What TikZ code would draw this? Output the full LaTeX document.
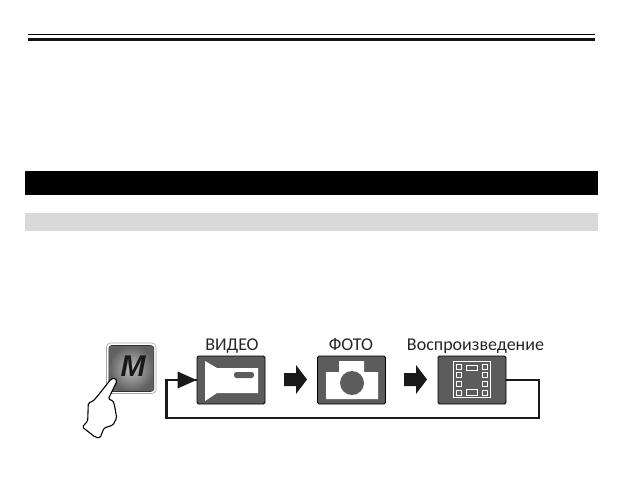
\documentclass[tikz,border=0pt]{standalone}
\usepackage{fontspec}
\setmainfont{Carlito}
\newfontfamily\buttonfont{Liberation Sans}
\usepackage{xcolor}

\definecolor{boxgray}{gray}{0.36}
\definecolor{bargray}{gray}{0.85}

\tikzset{
  modebox/.style={draw=black, line width=0.8pt, fill=boxgray, rounded corners=1.5pt, minimum width=68pt, minimum height=48pt, inner sep=0pt},
  modelabel/.style={font=\fontsize{18}{18}\selectfont, inner sep=0pt, text=black!85, anchor=base},
  whitepart/.style={fill=white, draw=none},
  filmpart/.style={draw=white, line width=1pt, fill=boxgray},
  loopline/.style={draw=black!90, line width=2.8pt},
}

\begin{document}
\begin{tikzpicture}[x=1pt, y=-1pt, line join=miter]
    \useasboundingbox[fill=white] (0, 0) rectangle (624, 482);

    % draw header rules
    \draw[line width=1.1pt] (28, 34.5) -- (595, 34.5);
    \draw[line width=2.6pt, color=black!92] (28, 39.7) -- (595, 39.7);

    % draw section bars
    \fill[black] (25, 171) rectangle (598, 195);
    \fill[bargray] (25, 213) rectangle (598, 231);

    % draw button
    \draw[draw=black!35, line width=0.6pt, fill=white, rounded corners=4pt] (106.5, 343) rectangle (156, 393.5);
    \node[draw=black!80, line width=0.6pt, rounded corners=3pt, minimum width=45pt, minimum height=46pt, inner color=black!25, outer color=black!62, inner sep=0pt] (mbutton) at (131.3, 368.5) {};
    \node[font=\buttonfont\bfseries\itshape\fontsize{30}{30}\selectfont, text=black!90, inner sep=0pt] (mletter) at (133, 366) {M};

    % draw hand
    \draw[draw=black, fill=white, line width=1.1pt, rounded corners=1.5pt]
      (115, 378) -- (117, 381) -- (108.3, 399) -- (113.3, 401) -- (115, 408) -- (116.7, 418) -- (113, 425)
      -- (104, 428) -- (100, 438) -- (95, 437) -- (82.3, 427) -- (87.7, 421) -- (88.3, 403) -- (93.3, 401)
      -- (100, 393) -- (111, 379) -- cycle;

    % draw mode boxes
    \node[modebox] (videobox) at (231, 380) {};
    \node[modebox] (photobox) at (351.5, 380) {};
    \node[modebox] (playbox) at (472, 380) {};

    % draw labels
    \node[modelabel] (videolabel) at (232, 350.5) {ВИДЕО};
    \node[modelabel] (photolabel) at (351, 350.5) {ФОТО};
    \node[modelabel] (playlabel) at (475.5, 350.5) {Воспроизведение};

    % draw video camera
    \fill[whitepart] (205, 361) -- (217, 368) -- (258, 368) -- (258, 393) -- (217, 393) -- (205, 401) -- cycle;
    \fill[boxgray, rounded corners=2.5pt] (234, 372) rectangle (254, 378);

    % draw photo camera
    \fill[whitepart] (326, 372) -- (339, 372) -- (339, 361) -- (364, 361) -- (364, 372) -- (378, 372) -- (378, 399) -- (326, 399) -- cycle;
    \fill[boxgray] (352, 383) circle (12);

    % draw film strip
    \draw[white, line width=1pt] (453, 361) rectangle (490, 397.5);
    \foreach \y in {364, 372.7, 381.5, 390} {
      \draw[filmpart] (456.5, \y) rectangle +(5, 5);
      \draw[filmpart] (482, \y) rectangle +(5, 5);
    }
    \draw[filmpart] (466, 365) rectangle (477.5, 370.5);
    \draw[filmpart] (466, 389.5) rectangle (477.5, 395);

    % draw arrows between the boxes
    \foreach \x in {284, 404} {
      \fill[black!90] (\x, 373) -- ++(12, 0) -- ++(0, -8) -- ++(11, 14.5) -- ++(-11, 14.5) -- ++(0, -8) -- ++(-12, 0) -- cycle;
    }

    % draw return line
    \coordinate (loopright) at (539, 418);
    \coordinate (loopleft) at (166.5, 418);
    \draw[loopline] (playbox.east) -| (loopright) -- (loopleft) |- (videobox.west);
    \fill[black!90] (videobox.west) -- ++(-19, -8.5) -- ++(0, 17) -- cycle;
\end{tikzpicture}
\end{document}
